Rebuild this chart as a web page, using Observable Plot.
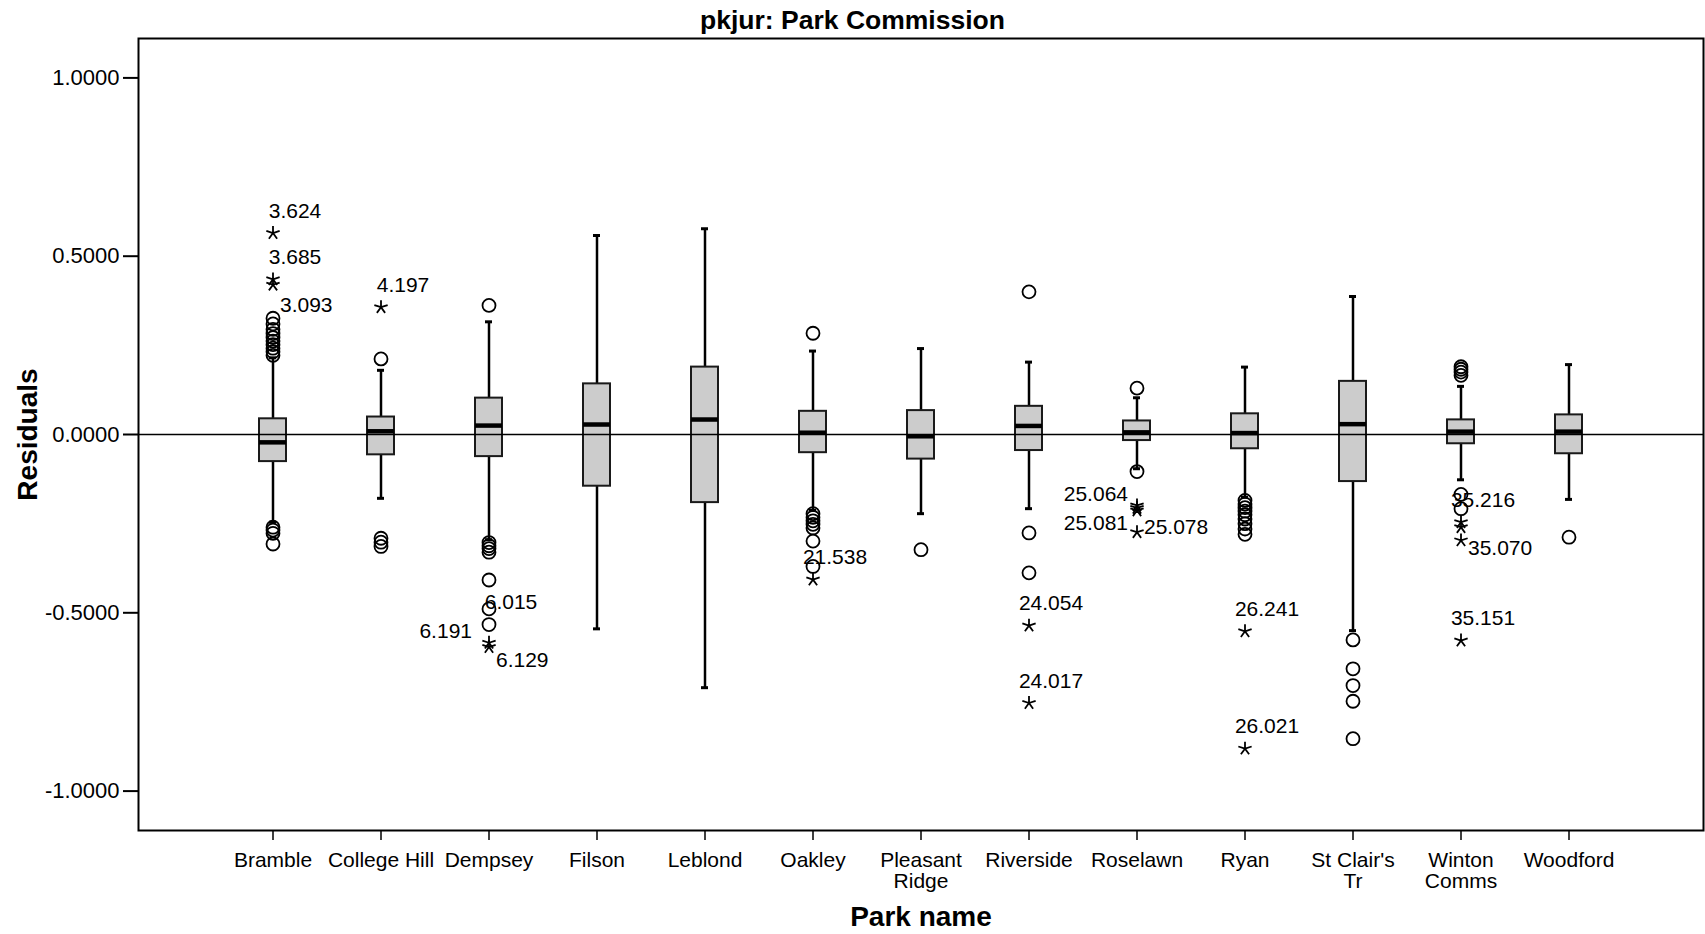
<!DOCTYPE html>
<html>
<head>
<meta charset="utf-8">
<script src="https://cdn.jsdelivr.net/npm/d3@7"></script>
<script src="https://cdn.jsdelivr.net/npm/@observablehq/plot@0.6"></script>
<style>
  body { margin: 0; background: white; font-family: "Liberation Sans", Arial, sans-serif; }
  #title { width: 1705px; height: 36px; line-height: 40px; text-align: center; font-weight: bold; font-size: 26.5px; color: black; }
</style>
</head>
<body>
<div id="title">pkjur: Park Commission</div>
<div id="chart"></div>
<script>
// ---- Data ----
const parks = ["Bramble", "College Hill", "Dempsey", "Filson", "Leblond", "Oakley", "Pleasant Ridge",
  "Riverside", "Roselawn", "Ryan", "St Clair's Tr", "Winton Comms", "Woodford"];
const tickLabels = ["Bramble", "College Hill", "Dempsey", "Filson", "Leblond", "Oakley", "Pleasant\nRidge",
  "Riverside", "Roselawn", "Ryan", "St Clair's\nTr", "Winton\nComms", "Woodford"];

const whiskerLow  = [-0.246, -0.179, -0.295, -0.545, -0.710, -0.213, -0.222, -0.208, -0.096, -0.176, -0.550, -0.127, -0.182];
const q1          = [-0.076, -0.057, -0.062, -0.145, -0.191, -0.051, -0.069, -0.045, -0.017, -0.040, -0.132, -0.026, -0.054];
const median      = [-0.022,  0.009,  0.025,  0.028,  0.042,  0.005, -0.005,  0.024,  0.006,  0.004,  0.029,  0.008,  0.008];
const q3          = [ 0.044,  0.049,  0.102,  0.142,  0.189,  0.065,  0.067,  0.079,  0.038,  0.058,  0.149,  0.041,  0.055];
const whiskerHigh = [ 0.215,  0.180,  0.316,  0.558,  0.577,  0.234,  0.241,  0.203,  0.103,  0.189,  0.387,  0.135,  0.196];

// outliers (circles), one list per park
const outliers = [
  [0.222, 0.232, 0.242, 0.252, 0.262, 0.272, 0.283, 0.295, 0.310, 0.326, -0.260, -0.268, -0.277, -0.307],
  [0.212, -0.291, -0.302, -0.314],
  [0.362, -0.303, -0.312, -0.320, -0.330, -0.408, -0.489, -0.533],
  [],
  [],
  [0.284, -0.222, -0.232, -0.242, -0.252, -0.262, -0.299, -0.370],
  [-0.323],
  [0.400, -0.276, -0.388],
  [0.130, -0.104],
  [-0.185, -0.195, -0.205, -0.215, -0.225, -0.237, -0.250, -0.265, -0.280],
  [-0.576, -0.657, -0.704, -0.748, -0.853],
  [0.166, 0.175, 0.183, 0.190, -0.168, -0.208],
  [-0.288]
];

// extremes (stars), one list per park
const extremes = [
  [0.565, 0.435, 0.420],
  [0.357],
  [-0.584, -0.596],
  [],
  [],
  [-0.407],
  [],
  [-0.536, -0.753],
  [-0.199, -0.206, -0.213, -0.274],
  [-0.552, -0.881],
  [],
  [-0.246, -0.260, -0.297, -0.578],
  []
];

// case labels: park, value of the marker, text, placement
const caseLabels = [
  {park: "Bramble", value: 0.565, label: "3.624", pos: "above"},
  {park: "Bramble", value: 0.435, label: "3.685", pos: "above"},
  {park: "Bramble", value: 0.420, label: "3.093", pos: "rightFarBelow"},
  {park: "College Hill", value: 0.357, label: "4.197", pos: "above"},
  {park: "Dempsey", value: -0.533, label: "6.015", pos: "above"},
  {park: "Dempsey", value: -0.584, label: "6.191", pos: "farLeft"},
  {park: "Dempsey", value: -0.596, label: "6.129", pos: "rightBelow"},
  {park: "Oakley", value: -0.407, label: "21.538", pos: "above"},
  {park: "Riverside", value: -0.536, label: "24.054", pos: "above"},
  {park: "Riverside", value: -0.753, label: "24.017", pos: "above"},
  {park: "Roselawn", value: -0.199, label: "25.064", pos: "left"},
  {park: "Roselawn", value: -0.213, label: "25.081", pos: "leftBelow"},
  {park: "Roselawn", value: -0.274, label: "25.078", pos: "right"},
  {park: "Ryan", value: -0.552, label: "26.241", pos: "above"},
  {park: "Ryan", value: -0.881, label: "26.021", pos: "above"},
  {park: "Winton Comms", value: -0.246, label: "35.216", pos: "above"},
  {park: "Winton Comms", value: -0.297, label: "35.070", pos: "rightNearBelow"},
  {park: "Winton Comms", value: -0.578, label: "35.151", pos: "above"}
];

const yTicks = [-1, -0.5, 0, 0.5, 1];

// ---- Build tables for Plot ----
const stats = parks.map((p, i) => ({park: p, lo: whiskerLow[i], q1: q1[i], med: median[i], q3: q3[i], hi: whiskerHigh[i]}));
const outlierRows = parks.flatMap((p, i) => outliers[i].map(v => ({park: p, value: v})));
const extremeRows = parks.flatMap((p, i) => extremes[i].map(v => ({park: p, value: v})));

const star5 = {
  draw(context, size) {
    const r = Math.sqrt(size / Math.PI);
    for (let k = 0; k < 5; ++k) {
      const a = -Math.PI / 2 + k * 2 * Math.PI / 5;
      context.moveTo(0, 0);
      context.lineTo(r * Math.cos(a), r * Math.sin(a));
    }
  }
};

const placements = {
  above:          {textAnchor: "middle", dx: 22,  dy: -22},
  rightFarBelow:  {textAnchor: "start",  dx: 7,   dy: 21},
  rightBelow:     {textAnchor: "start",  dx: 7,   dy: 13},
  rightNearBelow: {textAnchor: "start",  dx: 7,   dy: 8},
  farLeft:        {textAnchor: "end",    dx: -17, dy: -11},
  left:           {textAnchor: "end",    dx: -9,  dy: -11},
  leftBelow:      {textAnchor: "end",    dx: -9,  dy: 13},
  right:          {textAnchor: "start",  dx: 7,   dy: -5}
};
const labelMarks = Object.entries(placements).map(([key, o]) =>
  Plot.text(caseLabels.filter(d => d.pos === key), {
    x: "park", y: "value", text: "label", fill: "black", fontSize: 21, ...o
  })
);

const chart = Plot.plot({
  width: 1705,
  height: 898,
  marginTop: 2,
  marginBottom: 104,
  marginLeft: 138,
  marginRight: 2,
  style: {fontFamily: "'Liberation Sans', Arial, sans-serif", fontSize: "21px", color: "black", background: "white", overflow: "visible"},
  x: {type: "band", domain: parks, paddingInner: 0.751, paddingOuter: 1.0875, label: null},
  y: {domain: [-1.1105, 1.1105], label: null},
  marks: [
    Plot.ruleX(stats, {x: "park", y1: "lo", y2: "q1", stroke: "black", strokeWidth: 2.5}),
    Plot.ruleX(stats, {x: "park", y1: "q3", y2: "hi", stroke: "black", strokeWidth: 2.5}),
    Plot.barY(stats, {x: "park", y1: "q1", y2: "q3", fill: "#cccccc", stroke: "#1a1a1a", strokeWidth: 2}),
    Plot.tickY(stats, {x: "park", y: "med", stroke: "black", strokeWidth: 4.5}),
    Plot.ruleY([0], {stroke: "black", strokeWidth: 1.5}),
    Plot.tickY(stats, {x: "park", y: "lo", stroke: "black", strokeWidth: 3, insetLeft: 10, insetRight: 10}),
    Plot.tickY(stats, {x: "park", y: "hi", stroke: "black", strokeWidth: 3, insetLeft: 10, insetRight: 10}),
    Plot.dot(outlierRows, {x: "park", y: "value", r: 6.5, stroke: "black", strokeWidth: 1.8, fill: "none"}),
    Plot.dot(extremeRows, {x: "park", y: "value", r: 7, symbol: star5, stroke: "black", strokeWidth: 1.8, fill: "none"}),
    ...labelMarks,
    Plot.frame({stroke: "black", strokeWidth: 2}),
    Plot.axisX({tickSize: 10, tickPadding: 12, fontSize: 21, strokeWidth: 1.5, label: null,
      tickFormat: d => tickLabels[parks.indexOf(d)]}),
    Plot.axisY({ticks: yTicks, tickSize: 15, tickPadding: 4, fontSize: 22, strokeWidth: 2, label: null,
      tickFormat: d => d.toFixed(4)}),
    Plot.text(["Park name"], {text: d => d, frameAnchor: "bottom", lineAnchor: "middle", dy: 87, fontSize: 28, fontWeight: "bold", fill: "black"}),
    Plot.text(["Residuals"], {text: d => d, frameAnchor: "left", textAnchor: "middle", dx: -110, rotate: -90, fontSize: 28, fontWeight: "bold", fill: "black"})
  ]
});
document.getElementById("chart").appendChild(chart);
</script>
</body>
</html>
